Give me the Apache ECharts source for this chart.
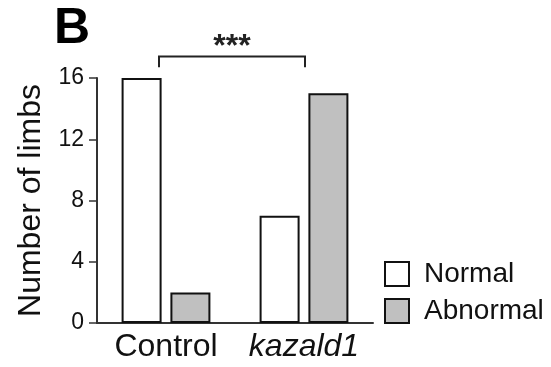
<!DOCTYPE html>
<html><head><meta charset="utf-8">
<script src="https://cdn.jsdelivr.net/npm/echarts@6/dist/echarts.min.js"></script>
<style>html,body{margin:0;padding:0;background:#fff}#c{width:551px;height:367px}</style>
</head><body><div id="c"></div>
<script>
const categories = ['Control', 'kazald1'];
const normalValues = [16, 7];
const abnormalValues = [2, 15];
const yTicks = [0, 4, 8, 12, 16];
const seriesNames = ['Normal', 'Abnormal'];

const chart = echarts.init(document.getElementById('c'));
const font = 'Liberation Sans, Arial, sans-serif';
chart.setOption({
  animation: false,
  grid: {left: 97, right: 178, top: 78, bottom: 44},
  legend: {
    orient: 'vertical', left: 379, top: 255, itemWidth: 24, itemHeight: 24, itemGap: 9,
    icon: 'rect',
    textStyle: {fontFamily: font, fontSize: 28, color: '#111', padding: [0,0,0,10]},
    data: seriesNames
  },
  xAxis: {
    type: 'category', data: categories,
    axisLine: {lineStyle: {color: '#333', width: 2}},
    axisTick: {alignWithLabel: true, interval: 0, length: 6, lineStyle: {color: '#333', width: 1.5}},
    axisLabel: {interval: 0, fontFamily: font, fontSize: 32, color: '#111', margin: 8,
      formatter: v => v === 'kazald1' ? '{i|' + v + '}' : v,
      rich: {i: {fontStyle: 'italic', fontFamily: font, fontSize: 32, color: '#111'}}}
  },
  yAxis: {
    type: 'value', min: 0, max: 16, interval: 4,
    name: 'Number of limbs', nameLocation: 'middle', nameGap: 44,
    nameTextStyle: {fontFamily: font, fontSize: 32, color: '#111'},
    splitLine: {show: false},
    axisLine: {show: true, lineStyle: {color: '#333', width: 2}},
    axisTick: {show: true, length: 8, lineStyle: {color: '#333', width: 1.5}},
    axisLabel: {fontFamily: font, fontSize: 23, color: '#111', margin: 13,
      formatter: v => yTicks.includes(v) ? String(v) : ''}
  },
  series: [
    {name: seriesNames[0], type: 'bar', data: normalValues, barWidth: 40, barGap: '22%',
     itemStyle: {color: '#ffffff', borderColor: '#111', borderWidth: 2}},
    {name: seriesNames[1], type: 'bar', data: abnormalValues, barWidth: 40, barGap: '22%',
     itemStyle: {color: '#c0c0c0', borderColor: '#111', borderWidth: 2}}
  ]
});

function addAnnotations() {
  const pL = chart.convertToPixel({seriesIndex: 0}, [0, 17.4]);
  const pR = chart.convertToPixel({seriesIndex: 0}, [1, 17.4]);
  const pEnd = chart.convertToPixel({seriesIndex: 0}, [0, 16.7]);
  const pStar = chart.convertToPixel({seriesIndex: 0}, [0, 18.5]);
  const x1 = pL[0] - 7, x2 = pR[0] + 1, y = pL[1], y2 = pEnd[1];
  chart.setOption({
    graphic: [
      {type: 'polyline', shape: {points: [[x1, y2], [x1, y], [x2, y], [x2, y2]]},
       style: {stroke: '#222', lineWidth: 2, fill: null}},
      {type: 'text', x: (x1 + x2) / 2, y: pStar[1] + 7,
       style: {text: '***', font: 'bold 32px ' + font, fill: '#222', align: 'center', verticalAlign: 'middle'}},
      {type: 'text', x: 72, y: 29,
       style: {text: 'B', font: 'bold 50px ' + font, fill: '#000', align: 'center', verticalAlign: 'middle'}}
    ]
  });
}
addAnnotations();
</script>
</body></html>
